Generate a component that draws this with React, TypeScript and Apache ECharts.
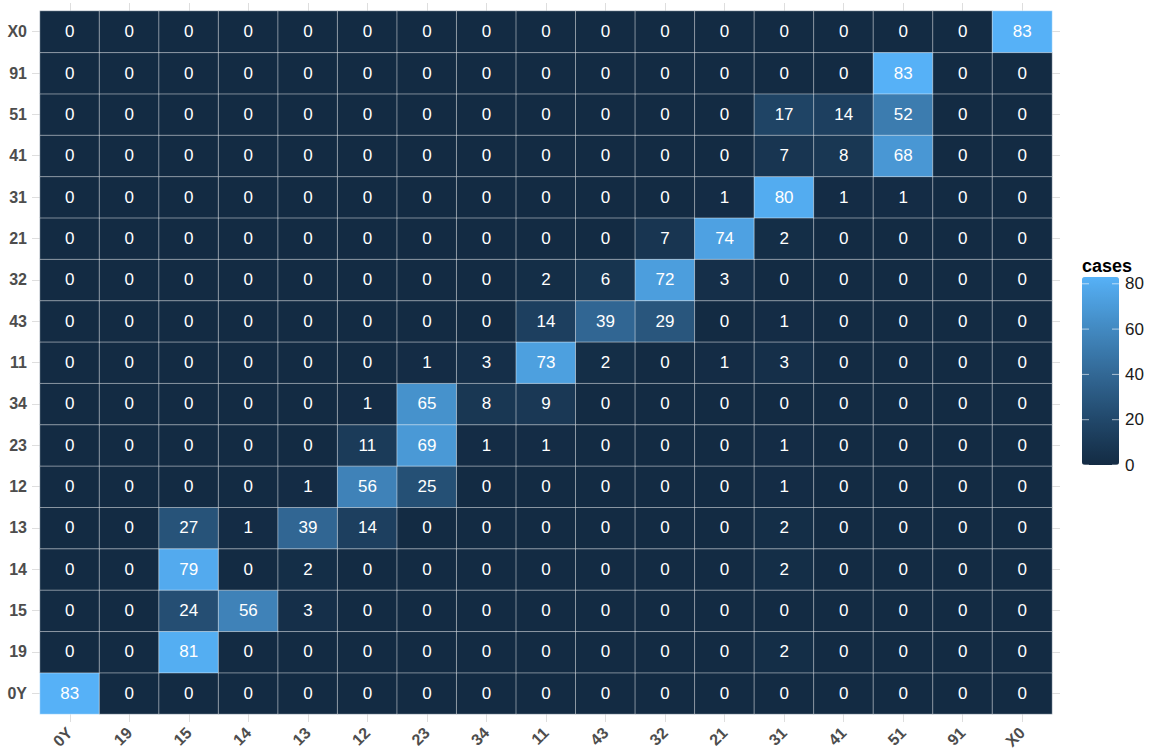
import React, { useEffect, useRef } from "react";
import * as echarts from "echarts";

const xCategories = ["0Y", "19", "15", "14", "13", "12", "23", "34", "11", "43", "32", "21", "31", "41", "51", "91", "X0"];
const yCategories = ["0Y", "19", "15", "14", "13", "12", "23", "34", "11", "43", "32", "21", "31", "41", "51", "91", "X0"];

// rows in the order of yCategories (bottom to top), columns in the order of xCategories
const rowValues: number[][] = [
  [83, 0, 0, 0, 0, 0, 0, 0, 0, 0, 0, 0, 0, 0, 0, 0, 0],
  [0, 0, 81, 0, 0, 0, 0, 0, 0, 0, 0, 0, 2, 0, 0, 0, 0],
  [0, 0, 24, 56, 3, 0, 0, 0, 0, 0, 0, 0, 0, 0, 0, 0, 0],
  [0, 0, 79, 0, 2, 0, 0, 0, 0, 0, 0, 0, 2, 0, 0, 0, 0],
  [0, 0, 27, 1, 39, 14, 0, 0, 0, 0, 0, 0, 2, 0, 0, 0, 0],
  [0, 0, 0, 0, 1, 56, 25, 0, 0, 0, 0, 0, 1, 0, 0, 0, 0],
  [0, 0, 0, 0, 0, 11, 69, 1, 1, 0, 0, 0, 1, 0, 0, 0, 0],
  [0, 0, 0, 0, 0, 1, 65, 8, 9, 0, 0, 0, 0, 0, 0, 0, 0],
  [0, 0, 0, 0, 0, 0, 1, 3, 73, 2, 0, 1, 3, 0, 0, 0, 0],
  [0, 0, 0, 0, 0, 0, 0, 0, 14, 39, 29, 0, 1, 0, 0, 0, 0],
  [0, 0, 0, 0, 0, 0, 0, 0, 2, 6, 72, 3, 0, 0, 0, 0, 0],
  [0, 0, 0, 0, 0, 0, 0, 0, 0, 0, 7, 74, 2, 0, 0, 0, 0],
  [0, 0, 0, 0, 0, 0, 0, 0, 0, 0, 0, 1, 80, 1, 1, 0, 0],
  [0, 0, 0, 0, 0, 0, 0, 0, 0, 0, 0, 0, 7, 8, 68, 0, 0],
  [0, 0, 0, 0, 0, 0, 0, 0, 0, 0, 0, 0, 17, 14, 52, 0, 0],
  [0, 0, 0, 0, 0, 0, 0, 0, 0, 0, 0, 0, 0, 0, 83, 0, 0],
  [0, 0, 0, 0, 0, 0, 0, 0, 0, 0, 0, 0, 0, 0, 0, 0, 83],
];

const legendTicks = [0, 20, 40, 60, 80];
const legendTitle = "cases";

const FONT = "'Liberation Sans', Arial, Helvetica, sans-serif";

export default function App() {
  const ref = useRef<HTMLDivElement>(null);

  useEffect(() => {
    if (!ref.current) return;
    const chart = echarts.init(ref.current, undefined, { renderer: "svg" });

    const data: [number, number, number][] = [];
    rowValues.forEach((row, yi) => {
      row.forEach((v, xi) => data.push([xi, yi, v]));
    });
    const vmin = 0;
    const vmax = Math.max(...data.map((d) => d[2]));

    const barLeft = 1082;
    const barTop = 277;
    const barW = 37;
    const barH = 188;
    const valToY = (v: number) => barTop + barH - ((v - vmin) / (vmax - vmin)) * barH;

    const graphics: any[] = [
      {
        type: "text",
        left: barLeft,
        top: 257,
        style: { text: legendTitle, font: `bold 18px ${FONT}`, fill: "#000" },
        z: 10,
      },
    ];
    legendTicks.forEach((t) => {
      const y = valToY(t);
      graphics.push({
        type: "text",
        x: barLeft + barW + 6,
        y,
        style: { text: String(t), font: `17px ${FONT}`, fill: "#1a1a1a", verticalAlign: "middle", align: "left" },
        z: 10,
      });
      graphics.push({
        type: "line",
        shape: { x1: barLeft, y1: y, x2: barLeft + 7, y2: y },
        style: { stroke: "rgba(255,255,255,0.6)", lineWidth: 1 },
        z: 10,
      });
      graphics.push({
        type: "line",
        shape: { x1: barLeft + barW - 7, y1: y, x2: barLeft + barW, y2: y },
        style: { stroke: "rgba(255,255,255,0.6)", lineWidth: 1 },
        z: 10,
      });
    });

    const tickStyle = { show: true, length: 8, lineStyle: { color: "#dedede", width: 1 } };

    chart.setOption({
      animation: false,
      backgroundColor: "#ffffff",
      grid: { left: 40, top: 11, width: 1012, height: 703, containLabel: false },
      xAxis: [
        {
          type: "category",
          data: xCategories,
          position: "bottom",
          axisLine: { show: false },
          axisTick: { ...tickStyle, alignWithLabel: true },
          splitLine: { show: false },
          axisLabel: {
            rotate: 45,
            margin: 16,
            fontFamily: FONT,
            fontSize: 16,
            fontWeight: "bold",
            color: "#4d4d4d",
            interval: 0,
          },
        },
        {
          type: "category",
          data: xCategories,
          position: "top",
          axisLine: { show: false },
          axisTick: { ...tickStyle, alignWithLabel: true },
          axisLabel: { show: false },
        },
      ],
      yAxis: [
        {
          type: "category",
          data: yCategories,
          position: "left",
          axisLine: { show: false },
          axisTick: { ...tickStyle, alignWithLabel: true },
          splitLine: { show: false },
          axisLabel: {
            margin: 13,
            fontFamily: FONT,
            fontSize: 16,
            fontWeight: "bold",
            color: "#4d4d4d",
            interval: 0,
          },
        },
        {
          type: "category",
          data: yCategories,
          position: "right",
          axisLine: { show: false },
          axisTick: { ...tickStyle, alignWithLabel: true },
          axisLabel: { show: false },
        },
      ],
      visualMap: {
        type: "continuous",
        min: vmin,
        max: vmax,
        calculable: false,
        hoverLink: false,
        left: barLeft,
        top: barTop,
        padding: 0,
        itemWidth: barW,
        itemHeight: barH,
        text: ["", ""],
        showLabel: false,
        inRange: { color: ["#132B43", "#22496C", "#336A98", "#448DC6", "#56B1F7"] },
        seriesIndex: 0,
      },
      graphic: graphics,
      series: [
        {
          type: "heatmap",
          data,
          xAxisIndex: 0,
          yAxisIndex: 0,
          label: {
            show: true,
            formatter: (p: any) => String(p.value[2]),
            color: "#ffffff",
            fontFamily: FONT,
            fontSize: 17,
          },
          itemStyle: { borderColor: "rgba(255,255,255,0.45)", borderWidth: 1 },
          emphasis: { disabled: true },
        },
      ],
    });

    return () => chart.dispose();
  }, []);

  return (
    <div
      ref={ref}
      style={{ position: "fixed", left: 0, top: 0, width: 1160, height: 756 }}
    />
  );
}
